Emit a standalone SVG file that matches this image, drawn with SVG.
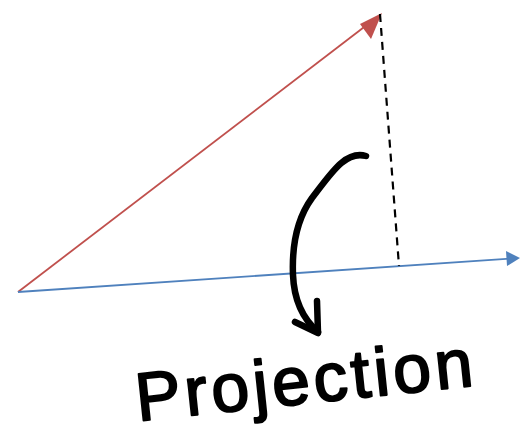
<svg xmlns="http://www.w3.org/2000/svg" width="520" height="437" viewBox="0 0 520 437">
<style>
.vec{fill:none;stroke-width:1.8}
.red{stroke:#C0504D}
.blue{stroke:#4F81BD}
.dash{fill:none;stroke:#000;stroke-width:2.2;stroke-dasharray:8 6}
.ink{fill:none;stroke:#000;stroke-width:6.5;stroke-linecap:round;stroke-linejoin:round}
.label{font-family:"Liberation Sans",Arial,sans-serif;font-size:68px;fill:#000;stroke:#000;stroke-width:2;stroke-linejoin:round;letter-spacing:4px}
</style>
<g id="connectors">
<line class="vec red" x1="18" y1="292" x2="372" y2="21"/>
<polygon points="382,13 360,24 371,39" fill="#C0504D"/>
<line class="vec blue" x1="18" y1="292" x2="510" y2="258.7"/>
<polygon points="520,258 506,251 507,266" fill="#4F81BD"/>
<line class="dash" x1="380" y1="14" x2="399" y2="266"/>
<path class="ink" d="M366,156 C345,150 330,175 312,198 C296,220 292,250 293,275 C294,300 302,318 318,332"/>
<path class="ink" d="M295,322 L318,333 L317,301"/>
</g>
<g id="projection-label">
<text class="label" x="138" y="421" transform="rotate(-6 138 421)">Projection</text>
</g>
</svg>
